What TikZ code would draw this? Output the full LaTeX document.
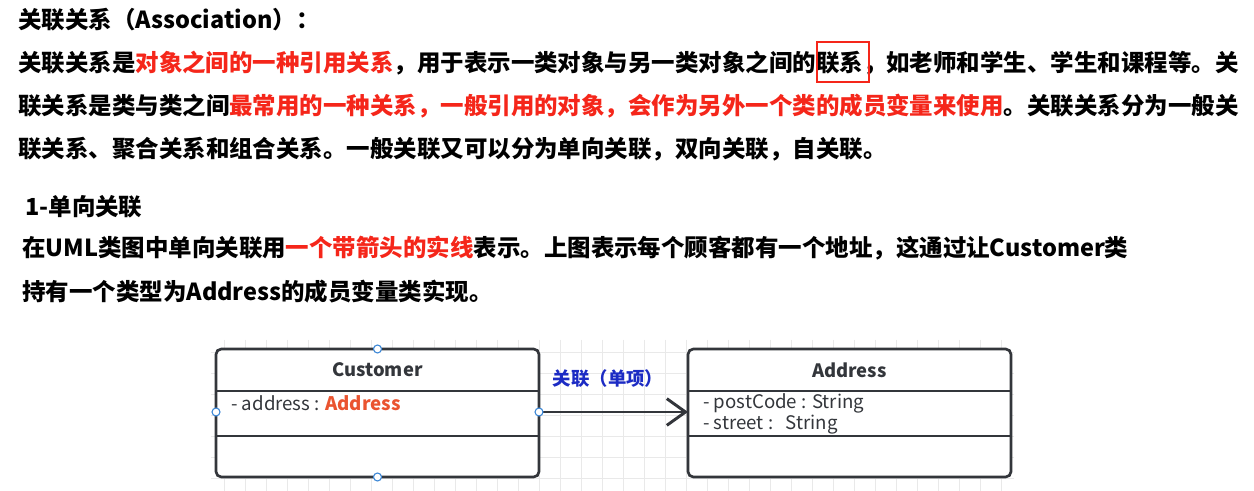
\documentclass[tikz,border=0pt]{standalone}
\usepackage{fontspec}
\setmainfont{Noto Sans CJK SC}
\usetikzlibrary{arrows.meta}
\definecolor{hired}{HTML}{F5261A}
\definecolor{linkblue}{HTML}{1C2BC4}
\definecolor{typeorange}{HTML}{EA5430}
\definecolor{umlline}{HTML}{33363B}
\definecolor{gridgray}{HTML}{E9E9E9}
\definecolor{handle}{HTML}{3A86D6}
\newcommand{\red}[1]{\textcolor{hired}{#1}}

\begin{document}
\begin{tikzpicture}[x=0.75pt, y=-0.75pt,
    para/.style={anchor=west, inner sep=0pt, font=\fontsize{17.6pt}{21pt}\selectfont\bfseries},
    umlbox/.style={draw=umlline, line width=2pt, rounded corners=4pt},
    umlsep/.style={draw=umlline, line width=2pt},
    umltext/.style={anchor=west, inner sep=0pt, text=umlline, font=\fontsize{14pt}{16pt}\selectfont},
    umltitle/.style={inner sep=0pt, text=umlline, font=\fontsize{13.8pt}{16pt}\selectfont\bfseries},
    gridline/.style={draw=gridgray, line width=0.5pt},
    grip/.style={circle, draw=handle, fill=white, line width=0.8pt, inner sep=0pt, minimum size=6pt}]
  \useasboundingbox[fill=white] (0,0) rectangle (1254,491);

  % text above the diagram
  \node[para] (title) at (18,20) {关联关系（Association）：};
  \node[para] (lineA) at (18,63) {关联关系是\red{对象之间的一种引用关系}，用于表示一类对象与另一类对象之间的联系，如老师和学生、学生和课程等。关};
  \node[para] (lineB) at (18,106) {联关系是类与类之间\red{最常用的一种关系，一般引用的对象，会作为另外一个类的成员变量来使用}。关联关系分为一般关};
  \node[para] (lineC) at (18,149) {联关系、聚合关系和组合关系。一般关联又可以分为单向关联，双向关联，自关联。};
  \draw[hired, line width=1.6pt] (817,42) rectangle (869,82);
  \node[para] (sub) at (25,207) {1-单向关联};
  \node[para] (lineD) at (22,248) {在UML类图中单向关联用\red{一个带箭头的实线}表示。上图表示每个顾客都有一个地址，这通过让Customer类};
  \node[para] (lineE) at (22,292) {持有一个类型为Address的成员变量类实现。};

  % canvas
  \fill[white] (211,340) rectangle (1014,491);
  \foreach \gx in {224,245,...,1014} \draw[gridline] (\gx,340) -- (\gx,491);
  \foreach \gy in {352,373,...,491} \draw[gridline] (211,\gy) -- (1014,\gy);

  % Customer
  \draw[umlbox, fill=white] (216,349) rectangle (539,477);
  \draw[umlsep] (216,391) -- (539,391);
  \draw[umlsep] (216,436) -- (539,436);
  \node[umltitle] (cname) at (377.5,370) {Customer};
  \node[umltext] (cattr) at (231,403) {- address : \textcolor{typeorange}{\bfseries Address}};

  % Address
  \draw[umlbox, fill=white] (688,349) rectangle (1011,477);
  \draw[umlsep] (688,391) -- (1011,391);
  \draw[umlsep] (688,436) -- (1011,436);
  \node[umltitle] (aname) at (849.5,370) {Address};
  \node[umltext] (aattr1) at (703,403) {- postCode : String};
  \node[umltext] (aattr2) at (703,425) {- street :\ \ \ String};

  % association
  \coordinate (from) at (539,412);
  \coordinate (to) at (688,412);
  \draw[umlline, line width=2.2pt, -{Straight Barb[length=14pt, width=20pt, line width=2.2pt]}] (from) -- (to);
  \node[text=linkblue, font=\fontsize{13.8pt}{15pt}\selectfont\bfseries] (assoc) at (608,379) {关联（单项）};

  % selection handles
  \node[grip] at (377.5,349) {};
  \node[grip] at (377.5,477) {};
  \node[grip] at (216,412) {};
  \node[grip] at (from) {};
\end{tikzpicture}
\end{document}
